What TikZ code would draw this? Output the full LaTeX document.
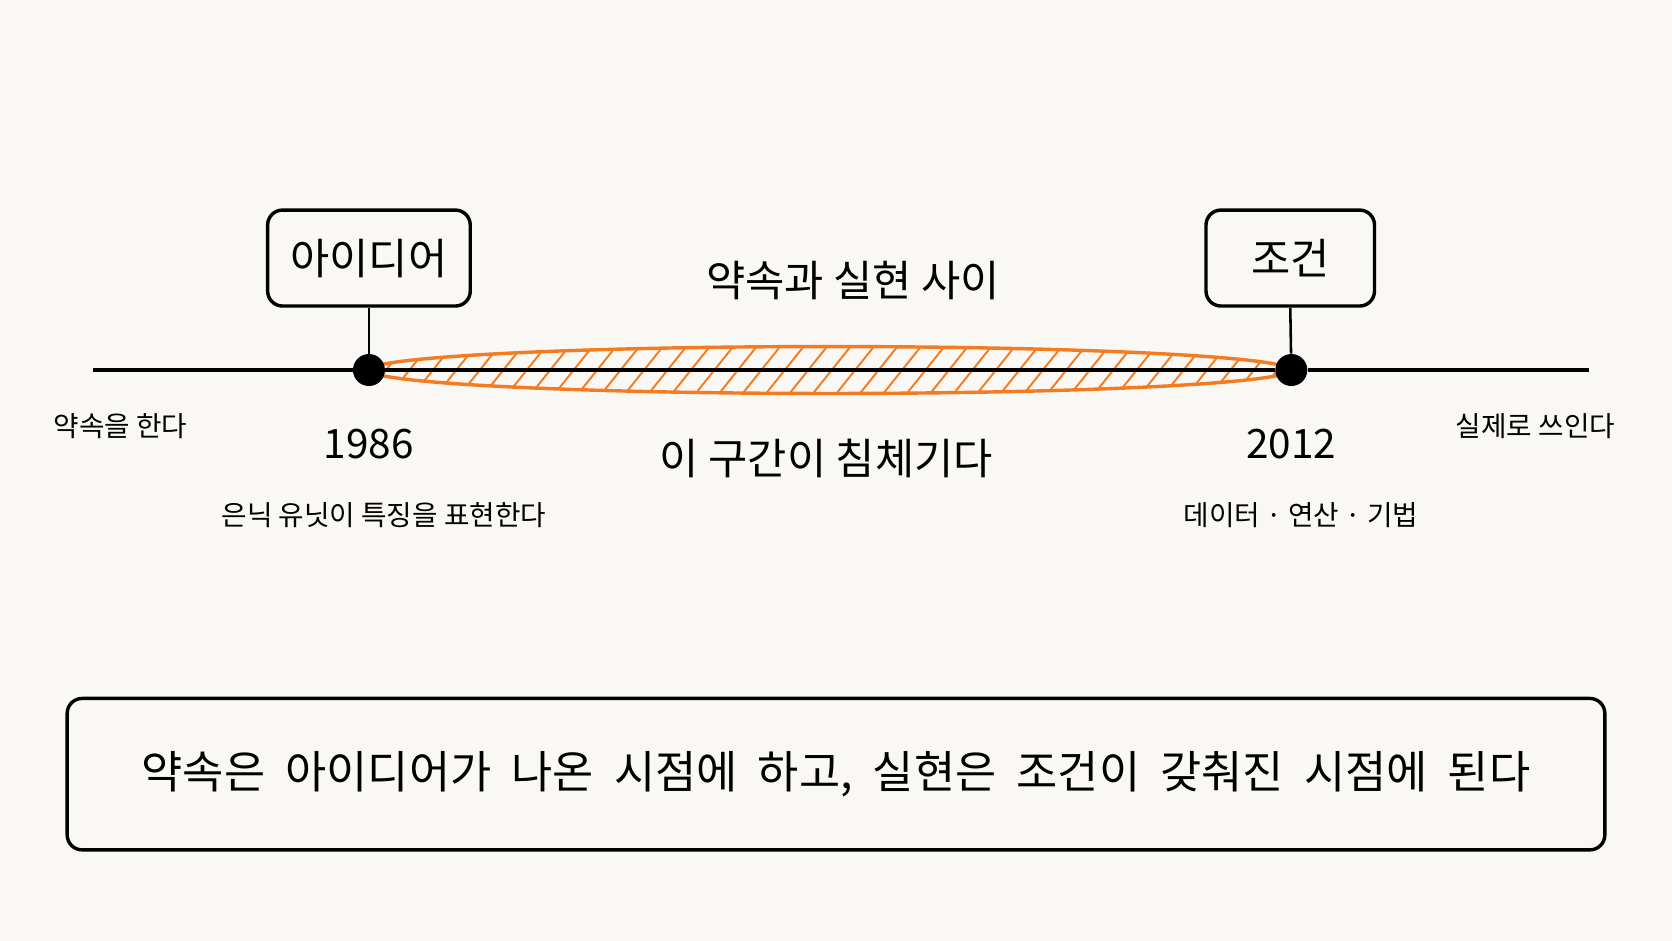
\documentclass[tikz,border=0pt]{standalone}
\usepackage{fontspec}
\setmainfont{Noto Sans CJK KR}
\definecolor{bg}{HTML}{FAF8F5}
\definecolor{org}{HTML}{F47B20}
\begin{document}
\begin{tikzpicture}[x=0.5pt,y=-0.5pt,
  box/.style={draw=black,line width=1.6pt,rounded corners=7pt,inner sep=0pt},
  lbl/.style={font=\fontsize{20}{24}\selectfont},
  sm/.style={font=\fontsize{13}{16}\selectfont},
  yr/.style={font=\fontsize{19}{22}\selectfont},
  dot/.style={circle,fill=black,minimum size=15pt,inner sep=0pt}]
\fill[bg] (0,0) rectangle (1568,882);
\useasboundingbox (0,0) rectangle (1568,882);
\begin{scope}
\clip (778,347) ellipse [x radius=432,y radius=22];
\foreach \i in {320,342,...,1240} \draw[org,line width=0.9pt] (\i,372) -- (\i+40,322);
\end{scope}
\draw[org,line width=1.6pt] (778,347) ellipse [x radius=432,y radius=22];
\coordinate (L) at (87,347); \coordinate (R) at (1490,347);
\node[dot] (d1) at (346,347) {};
\node[dot] (d2) at (1211,347) {};
\draw[line width=1.5pt] (L) -- (d1) -- (d2) -- (R);
\node[box,lbl,minimum width=95pt,minimum height=45pt] (b1) at (346,242) {아이디어};
\node[box,lbl,minimum width=79pt,minimum height=45pt] (b2) at (1210,242) {조건};
\draw[line width=1.2pt] (b1.south) -- (d1);
\draw[line width=1.2pt] (b2.south) -- (d2);
\node[lbl] (t1) at (800,263) {약속과 실현 사이};
\node[sm] (t2) at (113,400) {약속을 한다};
\node[yr] (t3) at (346,416) {1986};
\node[sm] (t4) at (360,483) {은닉 유닛이 특징을 표현한다};
\node[lbl] (t5) at (775,430) {이 구간이 침체기다};
\node[yr] (t6) at (1211,416) {2012};
\node[sm] (t7) at (1440,400) {실제로 쓰인다};
\node[sm] (t8) at (1220,483) {데이터 · 연산 · 기법};
\node[box,minimum width=721pt,minimum height=71pt,font=\fontsize{21}{25}\selectfont] (b3) at (784,726) {\spaceskip=0.45em 약속은 아이디어가 나온 시점에 하고, 실현은 조건이 갖춰진 시점에 된다};
\end{tikzpicture}
\end{document}
